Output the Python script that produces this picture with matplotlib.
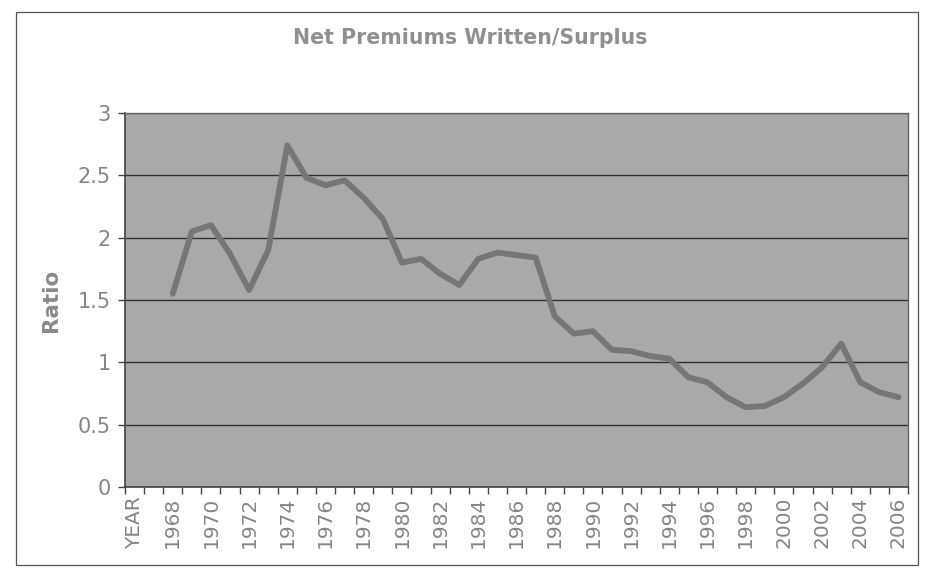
import matplotlib
matplotlib.use("Agg")
import matplotlib.pyplot as plt
import numpy as np
from matplotlib.patches import Rectangle

categories = ["YEAR"] + [str(y) for y in range(1967, 2007)]
years = list(range(1968, 2007))
ratios = [1.55, 2.05, 2.10, 1.87, 1.58, 1.90, 2.74, 2.48, 2.42, 2.46,
          2.32, 2.15, 1.80, 1.83, 1.71, 1.62, 1.83, 1.88, 1.86, 1.84,
          1.37, 1.23, 1.25, 1.10, 1.09, 1.05, 1.03, 0.88, 0.84, 0.72,
          0.64, 0.65, 0.72, 0.83, 0.96, 1.15, 0.84, 0.76, 0.72]
yticks = [0, 0.5, 1, 1.5, 2, 2.5, 3]
ytick_labels = ["0", "0.5", "1", "1.5", "2", "2.5", "3"]
title = "Net Premiums Written/Surplus"
ylabel = "Ratio"

fig = plt.figure(figsize=(9.28, 5.78), dpi=100)
fig.patch.set_facecolor("white")

# outer chart border
fig.patches.append(Rectangle((16 / 928, 1 - 565 / 578), (918 - 16) / 928, (565 - 12) / 578,
                             transform=fig.transFigure, fill=False,
                             edgecolor="#555555", linewidth=0.9))

ax = fig.add_axes([125 / 928, 1 - 487 / 578, (908 - 125) / 928, (487 - 113) / 578])
ax.set_facecolor("#a9a9a9")

xpos = [categories.index(str(y)) for y in years]
ax.plot(xpos, ratios, color="#767676", linewidth=4.2, solid_joinstyle="round",
        solid_capstyle="round", zorder=3)

n = len(categories)
ax.set_xlim(-0.5, n - 0.5)
ax.set_ylim(0, 3)

# major ticks at category boundaries (marks only)
ax.set_xticks(np.arange(-0.5, n, 1.0))
ax.set_xticklabels([])
# minor ticks carry labels every other category
lab_idx = list(range(0, n, 2))
ax.set_xticks(lab_idx, minor=True)
ax.set_xticklabels([categories[i] for i in lab_idx], minor=True, rotation=90,
                   fontsize=14.5, color="#858585", family="DejaVu Sans")
ax.tick_params(axis="x", which="major", length=5, width=1, color="#444444", direction="out")
ax.tick_params(axis="x", which="minor", length=0, pad=7)

ax.set_yticks(yticks)
ax.set_yticklabels(ytick_labels, fontsize=15, color="#858585")
ax.tick_params(axis="y", length=5, width=1, color="#444444", pad=5)

ax.yaxis.grid(True, color="#303030", linewidth=1.0, zorder=1)
ax.set_axisbelow(True)

for side in ["top", "right"]:
    ax.spines[side].set_color("#666666")
    ax.spines[side].set_linewidth(1.0)
for side in ["left", "bottom"]:
    ax.spines[side].set_color("#444444")
    ax.spines[side].set_linewidth(1.2)

ax.set_ylabel(ylabel, fontsize=15.5, fontweight="bold", color="#8a8a8a", labelpad=12)

fig.text(470 / 928, 1 - 38 / 578, title, ha="center", va="center",
         fontsize=14.8, fontweight="bold", color="#909090")

fig.savefig("out.png", dpi=100, facecolor="white")
